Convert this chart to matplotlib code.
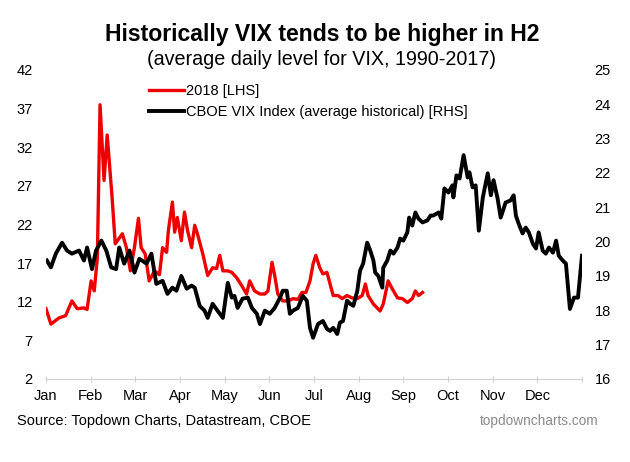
import matplotlib
matplotlib.use("Agg")
import matplotlib.pyplot as plt

plt.rcParams['font.family'] = ['Liberation Sans', 'DejaVu Sans']

months = ["Jan", "Feb", "Mar", "Apr", "May", "Jun", "Jul", "Aug", "Sep", "Oct", "Nov", "Dec", ""]

# 2018 VIX (LHS), x in months from Jan 1
vix2018_x = [0.00, 0.11, 0.29, 0.44, 0.58, 0.70, 0.85, 0.92, 1.01, 1.08, 1.15, 1.21, 1.30, 1.37,
             1.42, 1.48, 1.55, 1.71, 1.80, 1.89, 1.98, 2.07, 2.13, 2.22, 2.31, 2.43, 2.54, 2.61,
             2.70, 2.74, 2.83, 2.88, 2.94, 3.03, 3.10, 3.17, 3.26, 3.33, 3.39, 3.51, 3.62, 3.73,
             3.82, 3.89, 3.96, 4.07, 4.16, 4.27, 4.38, 4.49, 4.56, 4.67, 4.79, 4.90, 4.97, 5.06,
             5.12, 5.19, 5.30, 5.42, 5.53, 5.64, 5.73, 5.82, 5.91, 5.98, 6.04, 6.13, 6.20, 6.29,
             6.36, 6.43, 6.54, 6.63, 6.74, 6.85, 6.97, 7.08, 7.15, 7.21, 7.33, 7.48, 7.55, 7.66,
             7.75, 7.87, 7.98, 8.09, 8.20, 8.27, 8.34, 8.43]
vix2018 = [11.1, 9.1, 9.9, 10.2, 12.1, 11.1, 11.2, 11.0, 14.7, 13.4, 17.7, 37.5, 27.7, 33.6,
           29.9, 25.5, 19.5, 20.8, 19.0, 16.0, 19.0, 22.8, 19.0, 18.2, 14.7, 16.0, 15.5, 19.0,
           18.4, 21.2, 24.9, 21.0, 22.9, 19.9, 23.6, 21.2, 19.0, 21.9, 20.8, 18.2, 15.4, 16.4,
           16.3, 18.0, 16.0, 16.0, 15.8, 15.1, 14.1, 13.0, 14.7, 13.4, 13.0, 13.0, 13.4, 17.1,
           15.4, 13.0, 12.1, 12.1, 12.4, 12.3, 13.2, 13.2, 14.7, 16.9, 18.0, 16.4, 15.6, 15.8,
           14.3, 12.8, 12.8, 12.4, 12.8, 12.5, 12.4, 12.8, 14.3, 12.8, 11.7, 10.8, 11.7, 14.7,
           13.7, 12.5, 12.4, 11.9, 12.4, 13.4, 12.8, 13.2]

# average historical VIX 1990-2017 (RHS)
hist_x = [0.02, 0.11, 0.22, 0.36, 0.47, 0.58, 0.74, 0.85, 0.92, 1.03, 1.12, 1.24, 1.35, 1.46,
          1.57, 1.64, 1.75, 1.87, 1.98, 2.09, 2.25, 2.36, 2.47, 2.61, 2.72, 2.83, 2.92, 3.03,
          3.15, 3.26, 3.33, 3.44, 3.55, 3.62, 3.73, 3.84, 3.96, 4.07, 4.16, 4.22, 4.29, 4.40,
          4.52, 4.61, 4.72, 4.79, 4.90, 5.01, 5.12, 5.24, 5.30, 5.39, 5.46, 5.53, 5.64, 5.75,
          5.84, 5.91, 5.98, 6.09, 6.20, 6.29, 6.36, 6.43, 6.52, 6.58, 6.65, 6.74, 6.81, 6.88,
          6.97, 7.03, 7.10, 7.19, 7.26, 7.33, 7.37, 7.44, 7.53, 7.55, 7.64, 7.71, 7.78, 7.87,
          7.93, 8.00, 8.09, 8.13, 8.20, 8.27, 8.34, 8.43, 8.54, 8.61, 8.67, 8.79, 8.85, 8.92,
          9.01, 9.10, 9.12, 9.19, 9.26, 9.35, 9.44, 9.48, 9.55, 9.62, 9.69, 9.78, 9.89, 9.96,
          10.02, 10.11, 10.18, 10.29, 10.40, 10.47, 10.52, 10.58, 10.67, 10.74, 10.81, 10.90,
          10.97, 11.03, 11.12, 11.19, 11.26, 11.35, 11.42, 11.48, 11.57, 11.64, 11.73, 11.82,
          11.91, 12.00]
hist = [19.45, 19.25, 19.65, 19.97, 19.74, 19.65, 19.74, 19.45, 19.83, 19.20, 19.74, 20.03, 19.74, 19.25,
        19.20, 19.83, 19.36, 19.74, 19.10, 19.50, 19.36, 19.65, 18.77, 18.86, 18.48, 18.66, 18.57, 19.00,
        18.63, 18.72, 18.66, 18.13, 17.99, 17.78, 18.19, 17.99, 17.78, 18.80, 18.37, 18.42, 18.07, 18.34,
        18.37, 18.07, 17.90, 17.60, 17.99, 17.90, 18.07, 18.37, 18.57, 18.57, 17.90, 17.99, 18.07, 18.42,
        18.28, 17.49, 17.20, 17.60, 17.69, 17.46, 17.40, 17.49, 17.31, 17.64, 17.69, 18.28, 18.19, 18.13,
        18.57, 19.15, 19.36, 19.97, 19.74, 19.45, 19.10, 19.00, 18.66, 19.24, 19.45, 19.74, 19.65, 19.83,
        20.09, 20.03, 20.27, 20.70, 20.47, 20.85, 20.67, 20.56, 20.62, 20.76, 20.76, 20.85, 20.67, 21.55,
        21.43, 21.64, 21.29, 21.93, 21.84, 22.52, 21.87, 22.02, 21.58, 21.64, 20.32, 21.29, 21.99, 21.35,
        21.79, 21.26, 20.70, 21.14, 21.20, 21.35, 20.76, 20.53, 20.24, 20.41, 20.27, 19.94,
        19.80, 20.27, 19.74, 19.65, 19.83, 19.68, 20.03, 19.59, 19.45, 19.36, 18.04, 18.37,
        18.37, 19.59]

left_ticks = [2, 7, 12, 17, 22, 27, 32, 37, 42]
right_ticks = [16, 17, 18, 19, 20, 21, 22, 23, 24, 25]

fig = plt.figure(figsize=(6.3, 4.62), dpi=100)
ax = fig.add_axes([0.0730, 0.1797, 0.8508, 0.6688])
ax2 = ax.twinx()

l1, = ax.plot(vix2018_x, vix2018, color='#ee0000', lw=2.4, label='2018 [LHS]')
l2, = ax2.plot(hist_x, hist, color='black', lw=2.8, label='CBOE VIX Index (average historical) [RHS]')

ax.set_xlim(0, 12)
ax.set_ylim(2, 42)
ax2.set_ylim(16, 25)
ax.set_yticks(left_ticks)
ax2.set_yticks(right_ticks)
ax.set_xticks(range(13))
ax.set_xticklabels(months)

for a in (ax, ax2):
    for s in a.spines.values():
        s.set_visible(False)
ax.spines['bottom'].set_visible(True)
ax.spines['bottom'].set_color('#d0d0d0')
ax.tick_params(axis='x', direction='inout', length=5, color='#d0d0d0', labelsize=10.5, pad=5)
ax.tick_params(axis='y', length=0, labelsize=10.5, pad=9.5)
ax2.tick_params(axis='y', length=0, labelsize=10.5, pad=9)

fig.text(0.511, 0.926, "Historically VIX tends to be higher in H2", ha='center', va='center',
         fontsize=16.6, fontweight='bold')
fig.text(0.511, 0.872, "(average daily level for VIX, 1990-2017)", ha='center', va='center',
         fontsize=14.2)

ax2.legend(handles=[l1, l2], loc='upper left', bbox_to_anchor=(0.236, 0.818),
           bbox_transform=fig.transFigure, frameon=False, fontsize=10.5, borderpad=0,
           handlelength=2.4, handletextpad=0.15, labelspacing=0.5, borderaxespad=0)

fig.text(0.027, 0.089, "Source: Topdown Charts, Datastream, CBOE", ha='left', va='center', fontsize=10.5)
fig.text(0.95, 0.089, "topdowncharts.com", ha='right', va='center', fontsize=9.8, color='#8a8a8a')

fig.savefig("out.png", dpi=100)
